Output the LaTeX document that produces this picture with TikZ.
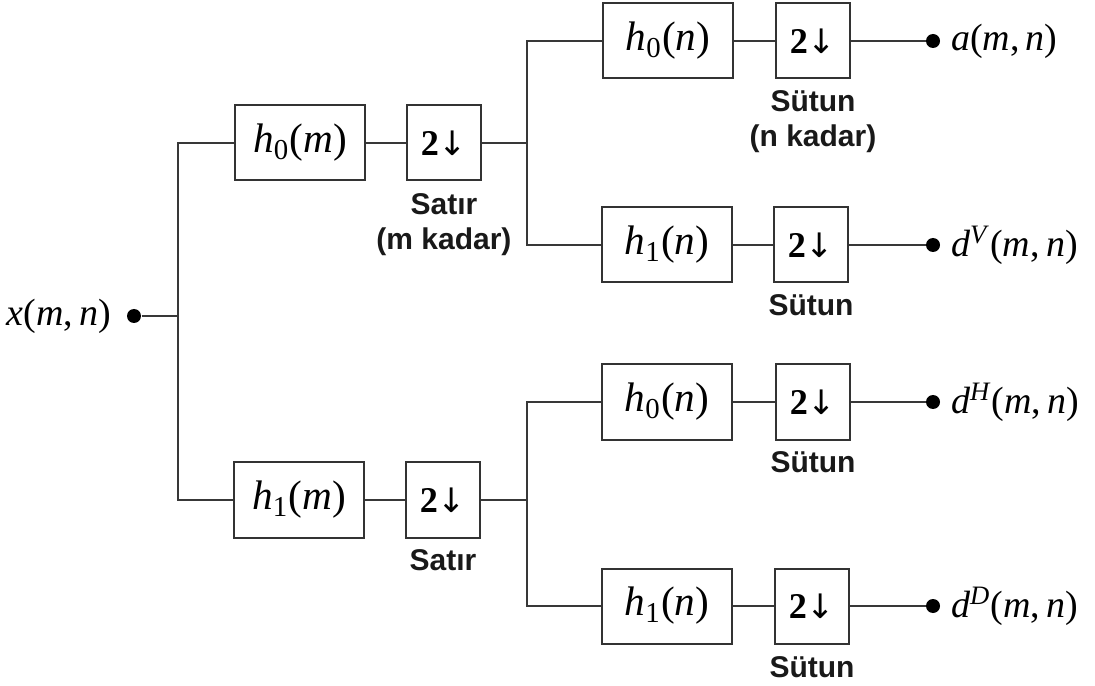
\documentclass[tikz,border=0pt]{standalone}
\usepackage{fontspec}
\setmainfont{Liberation Serif}
\newfontfamily\labfont{Liberation Sans}
\newfontfamily\arrfont{DejaVu Sans}
\newcommand{\dn}{\textbf{2}{\arrfont\fontsize{13.5}{15}\selectfont ↓}}
\newcommand{\mn}[1]{(\textit{#1},\,\textit{n})}
\tikzset{
 box/.style={draw=black!80, line width=0.8pt, minimum height=30pt, inner sep=0pt, font=\fontsize{16.5}{19}\selectfont},
 hbox/.style={box, minimum width=52pt},
 dbox/.style={box, minimum width=29.6pt, font=\fontsize{14.5}{17}\selectfont},
 conn/.style={draw=black!78, line width=0.7pt},
 dot/.style={circle, fill=black, minimum size=5.6pt, inner sep=0pt},
 lab/.style={font=\labfont\bfseries\fontsize{12}{14}\selectfont, align=center, text=black!90, inner sep=0pt, anchor=north},
 mth/.style={font=\fontsize{15.2}{18}\selectfont, inner sep=0pt},
}
\begin{document}
\begin{tikzpicture}[x=0.4pt,y=-0.4pt]
\useasboundingbox (0,0) rectangle (1095,686);
% first stage
\node[hbox] (hm0) at (300,143) {\textit{h}\textsubscript{0}(\textit{m})};
\node[dbox] (dm0) at (444,143) {\dn};
\node[hbox] (hm1) at (299,500) {\textit{h}\textsubscript{1}(\textit{m})};
\node[dbox] (dm1) at (443,500) {\dn};
% second stage
\node[hbox] (hn00) at (668,41) {\textit{h}\textsubscript{0}(\textit{n})};
\node[dbox] (dn00) at (813,41) {\dn};
\node[hbox] (hn01) at (667,245) {\textit{h}\textsubscript{1}(\textit{n})};
\node[dbox] (dn01) at (811,245) {\dn};
\node[hbox] (hn10) at (667,402) {\textit{h}\textsubscript{0}(\textit{n})};
\node[dbox] (dn10) at (813,402) {\dn};
\node[hbox] (hn11) at (667,606) {\textit{h}\textsubscript{1}(\textit{n})};
\node[dbox] (dn11) at (812,606) {\dn};
% labels
\node[lab] (l0) at (444,193) {Satır\\(m kadar)};
\node[lab] (l1) at (443,549) {Satır};
\node[lab] (l2) at (813,90) {Sütun\\(n kadar)};
\node[lab] (l3) at (811,294) {Sütun};
\node[lab] (l4) at (813,451) {Sütun};
\node[lab] (l5) at (812,656) {Sütun};
% input/output
\node[dot] (in) at (134,316) {};
\node[mth, anchor=east] (tin) at ([xshift=-6pt]in.west) {\textit{x}\mn{m}};
\node[dot] (oa) at (933,41) {};
\node[dot] (ov) at (933,245) {};
\node[dot] (oh) at (933,402) {};
\node[dot] (od) at (933,606) {};
\node[mth, anchor=west] (ta) at ([xshift=4pt]oa.east) {\textit{a}\mn{m}};
\node[mth, anchor=west] (tv) at ([xshift=4pt]ov.east) {\textit{d}\textsuperscript{\textit{V}}\mn{m}};
\node[mth, anchor=west] (th) at ([xshift=4pt]oh.east) {\textit{d}\textsuperscript{\textit{H}}\mn{m}};
\node[mth, anchor=west] (td) at ([xshift=4pt]od.east) {\textit{d}\textsuperscript{\textit{D}}\mn{m}};
% junctions
\coordinate (j0) at (178,316);
\coordinate (k0) at (527,143);
\coordinate (k1) at (527,500);
% connectors
\draw[conn] (in) -- (j0);
\draw[conn] (hm0.west) -| (j0) |- (hm1.west);
\draw[conn] (hm0) -- (dm0);
\draw[conn] (hm1) -- (dm1);
\draw[conn] (dm0.east) -- (k0);
\draw[conn] (dm1.east) -- (k1);
\draw[conn] (hn00.west) -| (k0) |- (hn01.west);
\draw[conn] (hn10.west) -| (k1) |- (hn11.west);
\draw[conn] (hn00) -- (dn00);
\draw[conn] (hn01) -- (dn01);
\draw[conn] (hn10) -- (dn10);
\draw[conn] (hn11) -- (dn11);
\draw[conn] (dn00) -- (oa);
\draw[conn] (dn01) -- (ov);
\draw[conn] (dn10) -- (oh);
\draw[conn] (dn11) -- (od);
\end{tikzpicture}
\end{document}
